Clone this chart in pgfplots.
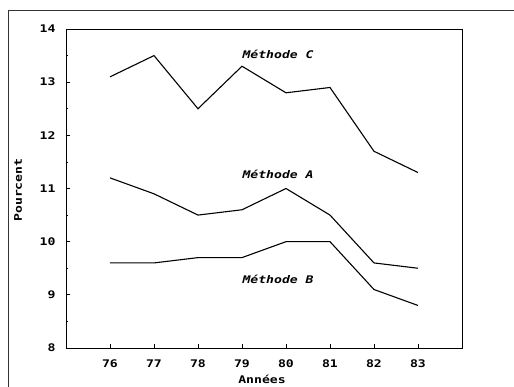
\documentclass[border=0pt]{standalone}
\usepackage{fontspec}
\setmainfont[FakeStretch=1.25]{DejaVu Sans Mono}
\usepackage{pgfplots}
\pgfplotsset{compat=1.18}
\begin{document}
\begin{tikzpicture}
\useasboundingbox (-66pt,-39pt) rectangle (448pt,348pt);
\draw[line width=0.8pt, black!80] (-58pt,-39pt) -- (-58pt,338pt) -- (448pt,338pt);
\begin{axis}[
  at={(0pt,0pt)}, anchor=south west,
  scale only axis, width=396pt, height=319pt,
  xmin=75, xmax=84, ymin=8, ymax=14,
  xtick={76,...,83}, ytick={8,...,14},
  minor y tick num=1,
  tick align=inside, xtick pos=bottom, ytick pos=left,
  major tick length=4pt, minor tick length=2.5pt,
  tick style={black, line width=0.8pt},
  axis line style={line width=0.9pt},
  /pgf/number format/assume math mode=true,
  ticklabel style={font=\bfseries\fontsize{10.5}{12}\selectfont},
  yticklabel style={xshift=-7pt},
  xticklabel style={yshift=-8pt},
  xlabel={Années}, ylabel={Pourcent},
  label style={font=\bfseries\fontsize{10.5}{12}\selectfont},
  xlabel style={at={(axis description cs:0.495,0)}, anchor=center, yshift=-31pt},
  ylabel style={at={(axis description cs:0,0.495)}, anchor=center, yshift=48pt},
  clip=false,
]
\addplot[black, line width=1.1pt, mark=none] coordinates {
 (76,13.1) (77,13.5) (78,12.5) (79,13.3) (80,12.8) (81,12.9) (82,11.7) (83,11.3)};
\addplot[black, line width=1.1pt, mark=none] coordinates {
 (76,11.2) (77,10.9) (78,10.5) (79,10.6) (80,11.0) (81,10.5) (82,9.6) (83,9.5)};
\addplot[black, line width=1.1pt, mark=none] coordinates {
 (76,9.6) (77,9.6) (78,9.7) (79,9.7) (80,10.0) (81,10.0) (82,9.1) (83,8.8)};
\node[font=\bfseries\itshape\fontsize{10.5}{12}\selectfont] at (axis cs:79.82,13.53) {Méthode C};
\node[font=\bfseries\itshape\fontsize{10.5}{12}\selectfont] at (axis cs:79.82,11.27) {Méthode A};
\node[font=\bfseries\itshape\fontsize{10.5}{12}\selectfont] at (axis cs:79.82,9.3) {Méthode B};
\end{axis}
\end{tikzpicture}
\end{document}
